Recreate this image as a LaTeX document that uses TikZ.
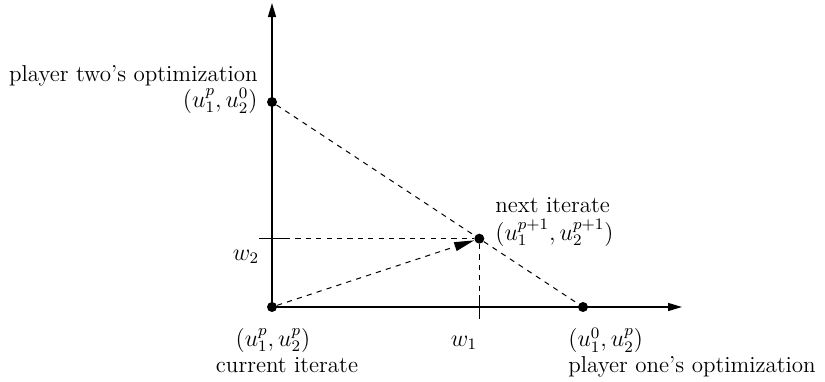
\documentclass[tikz,border=0pt]{standalone}
\usetikzlibrary{arrows.meta,calc}
\begin{document}
\begin{tikzpicture}[x=0.5pt,y=-0.5pt,
  dot/.style={circle,fill=black,inner sep=0pt,minimum size=5pt},
  axis/.style={line width=0.7pt,-{Triangle[length=7pt,width=4pt]}},
  guide/.style={line width=0.5pt,dash pattern=on 2.6pt off 2.6pt},
  tickmark/.style={line width=0.6pt},
  lbl/.style={inner sep=0pt,font=\fontsize{11.5}{13}\selectfont}]
\useasboundingbox (0,0) rectangle (825,381);
\coordinate (O) at (272,307);
\node[dot] (o) at (O) {};
\node[dot] (a) at (272,102) {};
\node[dot] (b) at (583,307) {};
\node[dot] (n) at ($(a)!2/3!(b)$) {};
\coordinate (ytop) at (272,3);
\coordinate (xend) at (682,307);
\draw[axis] (o.center) -- (ytop);
\draw[axis] (o.center) -- (xend);
% ticks
\coordinate (w2l) at ($(O |- n)+(-13,0)$);
\coordinate (w2r) at ($(O |- n)+(13,0)$);
\coordinate (w1t) at ($(n |- O)+(0,-12)$);
\coordinate (w1b) at ($(n |- O)+(0,12)$);
\draw[tickmark] (w2l) -- (w2r);
\draw[tickmark] (w1t) -- (w1b);
% guides
\draw[guide] (w2r) -- (n);
\draw[guide] (n) -- (w1t);
\draw[guide] (a) -- (n);
\draw[guide] (n) -- (b);
\draw[guide,-{Triangle[length=10pt,width=4.5pt]}] (o) -- (n);
% labels
\node[lbl,anchor=north east,align=right] (la) at (258,65)
  {player two's optimization\\$(u_1^p,u_2^0)$};
\node[lbl,anchor=north west,align=left] (ln) at (495,197)
  {next iterate\\[1pt]$(u_1^{p+1},u_2^{p+1})$};
\node[lbl] (w2) at (246,257) {$w_2$};
\node[lbl] (w1) at (464,343) {$w_1$};
\node[lbl,anchor=south,align=center] (lo) at (287,373)
  {$(u_1^p,u_2^p)$\hspace*{14pt}\\current iterate};
\node[lbl,anchor=south west,align=left] (lb) at (568,378)
  {$(u_1^0,u_2^p)$\\player one's optimization};
\end{tikzpicture}
\end{document}
